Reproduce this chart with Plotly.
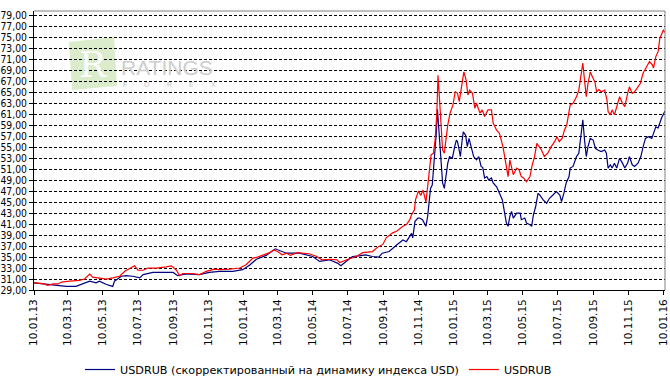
import plotly.graph_objects as go

# ---- data ----
red_dates = [
    '2013-01-10','2013-01-26','2013-02-03','2013-02-12','2013-02-21','2013-02-27','2013-03-13','2013-03-30',
    '2013-04-08','2013-04-17','2013-04-22','2013-05-04','2013-05-16','2013-05-27','2013-06-08','2013-06-17',
    '2013-06-28','2013-07-04','2013-07-10','2013-07-19','2013-07-27','2013-08-11','2013-08-28','2013-09-06',
    '2013-09-15','2013-09-20','2013-09-26','2013-10-11','2013-10-25','2013-11-06','2013-11-20','2013-11-29',
    '2013-12-16','2014-01-03','2014-01-14','2014-01-26','2014-02-03','2014-02-12','2014-02-24','2014-03-03',
    '2014-03-10','2014-03-18','2014-03-26','2014-04-01','2014-04-13','2014-05-04','2014-05-17','2014-05-26',
    '2014-06-09','2014-06-21','2014-06-26','2014-07-08','2014-07-25','2014-08-05','2014-08-22','2014-08-31',
    '2014-09-09','2014-09-15','2014-09-26','2014-10-03','2014-10-14','2014-10-20','2014-10-26','2014-10-29',
    '2014-11-03','2014-11-05','2014-11-10','2014-11-14','2014-11-18','2014-11-23','2014-11-27','2014-12-02',
    '2014-12-06','2014-12-09','2014-12-12','2014-12-14','2014-12-16','2014-12-19','2014-12-22','2014-12-25',
    '2014-12-28','2014-12-31','2015-01-04','2015-01-09','2015-01-13','2015-01-17','2015-01-20','2015-01-23',
    '2015-01-26','2015-01-28','2015-02-01','2015-02-04','2015-02-07','2015-02-12','2015-02-16','2015-02-19',
    '2015-02-25','2015-03-01','2015-03-05','2015-03-11','2015-03-17','2015-03-20','2015-03-26','2015-03-31',
    '2015-04-06','2015-04-09','2015-04-15','2015-04-18','2015-04-21','2015-04-24','2015-04-30','2015-05-04',
    '2015-05-08','2015-05-12','2015-05-17','2015-05-23','2015-05-27','2015-05-31','2015-06-04','2015-06-08',
    '2015-06-12','2015-06-17','2015-06-23','2015-06-29','2015-07-05','2015-07-09','2015-07-13','2015-07-18',
    '2015-07-22','2015-07-26','2015-07-30','2015-08-01','2015-08-06','2015-08-12','2015-08-16','2015-08-20',
    '2015-08-23','2015-08-26','2015-08-29','2015-09-01','2015-09-05','2015-09-10','2015-09-13','2015-09-16',
    '2015-09-20','2015-09-24','2015-09-30','2015-10-04','2015-10-06','2015-10-10','2015-10-13','2015-10-17',
    '2015-10-21','2015-10-26','2015-10-31','2015-11-04','2015-11-09','2015-11-12','2015-11-17','2015-11-21',
    '2015-11-27','2015-12-01','2015-12-06','2015-12-12','2015-12-17','2015-12-22','2015-12-24','2015-12-28',
    '2016-01-01','2016-01-04','2016-01-10','2016-01-13'
]
red_values = [
    30.3, 30.15, 29.85, 30.1, 30.1, 30.45, 30.6, 30.75,
    31.0, 31.9, 31.35, 31.2, 31.0, 31.2, 31.5, 32.4,
    33.0, 33.4, 32.6, 32.6, 33.0, 33.0, 33.2, 33.4,
    32.6, 31.6, 32.0, 32.0, 31.8, 32.4, 32.8, 32.7,
    32.8, 33.0, 33.6, 34.8, 35.0, 35.3, 35.8, 36.3,
    36.0, 35.4, 35.7, 35.3, 35.8, 35.6, 35.1, 34.5,
    34.6, 34.5, 34.0, 34.5, 35.1, 35.8, 36.0, 36.8,
    37.3, 38.5, 39.4, 39.7, 40.6, 40.9, 41.8, 42.7,
    43.6, 45.5, 47.0, 46.2, 47.2, 45.0, 49.05, 53.6,
    53.9, 56.3, 61.2, 68.1, 64.8, 58.7, 54.5, 53.9,
    56.9, 59.05, 61.2, 62.7, 65.1, 64.8, 63.3, 65.1,
    67.2, 68.7, 67.2, 64.5, 65.4, 64.8, 62.1, 63.0,
    61.2, 61.8, 60.6, 61.8, 61.8, 59.4, 58.1, 57.5,
    55.1, 53.0, 49.65, 52.7, 51.5, 50.0, 51.2, 50.9,
    49.65, 49.4, 48.7, 49.65, 51.8, 53.3, 55.7, 55.1,
    54.5, 53.3, 53.9, 55.1, 56.0, 56.9, 56.0, 56.6,
    58.1, 59.05, 61.2, 62.7, 63.0, 64.2, 65.4, 68.5,
    70.3, 67.2, 64.2, 66.6, 68.7, 67.5, 66.9, 65.1,
    65.5, 65.1, 65.4, 63.6, 61.5, 60.9, 61.8, 60.9,
    62.4, 64.2, 63.0, 62.4, 64.8, 66.0, 64.8, 65.1,
    66.0, 66.6, 68.5, 69.7, 70.6, 70.0, 69.4, 71.5,
    72.4, 74.8, 76.3, 75.9
]

blue_dates = [
    '2013-01-10','2013-02-01','2013-02-21','2013-03-07','2013-03-24','2013-04-11','2013-04-17','2013-04-28',
    '2013-05-04','2013-05-16','2013-05-27','2013-05-30','2013-06-11','2013-06-19','2013-07-01','2013-07-13',
    '2013-07-19','2013-08-05','2013-08-28','2013-09-09','2013-09-17','2013-10-02','2013-10-25','2013-11-11',
    '2013-11-29','2013-12-22','2014-01-08','2014-01-20','2014-02-01','2014-02-18','2014-03-06','2014-03-25',
    '2014-04-17','2014-05-10','2014-05-22','2014-06-08','2014-06-22','2014-06-28','2014-07-07','2014-07-18',
    '2014-07-30','2014-08-10','2014-08-22','2014-09-02','2014-09-08','2014-09-20','2014-10-03','2014-10-14',
    '2014-10-20','2014-10-29','2014-10-31','2014-11-04','2014-11-09','2014-11-12','2014-11-17','2014-11-23',
    '2014-11-26','2014-11-29','2014-12-01','2014-12-04','2014-12-08','2014-12-11','2014-12-13','2014-12-16',
    '2014-12-19','2014-12-22','2014-12-25','2014-12-28','2014-12-31','2015-01-03','2015-01-08','2015-01-12',
    '2015-01-15','2015-01-17','2015-01-20','2015-01-22','2015-01-25','2015-01-27','2015-01-31','2015-02-03',
    '2015-02-06','2015-02-10','2015-02-14','2015-02-19','2015-02-23','2015-02-27','2015-03-02','2015-03-05',
    '2015-03-09','2015-03-12','2015-03-17','2015-03-20','2015-03-26','2015-03-31','2015-04-05','2015-04-09',
    '2015-04-12','2015-04-15','2015-04-18','2015-04-21','2015-04-24','2015-04-30','2015-05-06','2015-05-08',
    '2015-05-14','2015-05-17','2015-05-23','2015-05-26','2015-05-29','2015-06-02','2015-06-06','2015-06-09',
    '2015-06-15','2015-06-21','2015-06-26','2015-07-02','2015-07-08','2015-07-14','2015-07-17','2015-07-21',
    '2015-07-25','2015-07-30','2015-08-01','2015-08-06','2015-08-12','2015-08-16','2015-08-20','2015-08-23',
    '2015-08-26','2015-08-29','2015-09-01','2015-09-05','2015-09-10','2015-09-14','2015-09-18','2015-09-24',
    '2015-09-30','2015-10-03','2015-10-06','2015-10-10','2015-10-13','2015-10-17','2015-10-21','2015-10-26',
    '2015-10-31','2015-11-04','2015-11-09','2015-11-12','2015-11-17','2015-11-21','2015-11-27','2015-12-02',
    '2015-12-06','2015-12-10','2015-12-15','2015-12-21','2015-12-23','2015-12-28','2016-01-01','2016-01-07',
    '2016-01-13'
]
blue_values = [
    30.3, 30.0, 29.85, 29.65, 29.65, 30.3, 30.6, 30.3,
    30.6, 30.0, 29.65, 30.6, 31.5, 31.6, 31.5, 31.2,
    31.8, 32.2, 32.2, 32.2, 31.6, 31.95, 31.8, 32.2,
    32.4, 32.4, 32.7, 33.5, 34.6, 35.3, 36.5, 35.7,
    35.7, 35.1, 34.2, 34.5, 33.9, 33.4, 34.2, 35.1,
    35.2, 35.4, 35.1, 35.0, 35.7, 36.0, 37.2, 38.1,
    37.8, 39.3, 38.5, 41.5, 42.1, 42.1, 41.8, 40.6,
    42.4, 45.4, 47.5, 48.1, 52.7, 57.5, 61.9, 57.5,
    52.7, 48.5, 47.5, 50.3, 52.1, 53.3, 53.0, 55.1,
    56.3, 56.0, 54.5, 53.3, 56.3, 57.8, 57.2, 55.1,
    56.6, 55.1, 53.3, 52.7, 53.3, 51.5, 51.3, 49.4,
    49.65, 49.05, 49.4, 48.5, 47.8, 46.6, 45.4, 43.0,
    41.2, 40.6, 42.4, 43.3, 42.1, 43.0, 43.0, 41.8,
    42.1, 41.2, 40.9, 40.6, 42.7, 44.2, 46.6, 46.3,
    45.4, 44.8, 45.7, 46.3, 46.9, 46.3, 45.1, 46.6,
    48.5, 49.65, 51.2, 51.5, 53.3, 53.9, 56.9, 60.0,
    56.3, 53.3, 55.1, 56.6, 56.3, 54.8, 54.5, 54.2,
    54.5, 53.9, 51.2, 51.8, 51.2, 52.1, 51.2, 53.0,
    52.1, 51.2, 52.1, 53.3, 51.8, 51.5, 52.1, 53.3,
    55.1, 56.6, 56.9, 56.6, 57.2, 58.7, 58.5, 60.3,
    61.6
]

series_names = ['USDRUB (скорректированный на динамику индекса USD)', 'USDRUB']

x_tick_dates = [
    '2013-01-10','2013-03-10','2013-05-10','2013-07-10','2013-09-10','2013-11-10',
    '2014-01-10','2014-03-10','2014-05-10','2014-07-10','2014-09-10','2014-11-10',
    '2015-01-10','2015-03-10','2015-05-10','2015-07-10','2015-09-10','2015-11-10',
    '2016-01-10'
]
x_tick_labels = [
    '10.01.13','10.03.13','10.05.13','10.07.13','10.09.13','10.11.13',
    '10.01.14','10.03.14','10.05.14','10.07.14','10.09.14','10.11.14',
    '10.01.15','10.03.15','10.05.15','10.07.15','10.09.15','10.11.15',
    '10.01.16'
]
y_tick_values = list(range(29, 80, 2))
y_tick_labels = [f"{v},00" for v in y_tick_values]

FONT = 'DejaVu Sans'
YFONT = 'DejaVu Sans Condensed, Liberation Sans, sans-serif'

fig = go.Figure()
fig.add_trace(go.Scatter(x=blue_dates, y=blue_values, mode='lines', name=series_names[0],
                         line=dict(color='#000080', width=1.2)))
fig.add_trace(go.Scatter(x=red_dates, y=red_values, mode='lines', name=series_names[1],
                         line=dict(color='#ff0000', width=1.2)))

fig.update_layout(
    template='none',
    width=670, height=384,
    margin=dict(l=34, r=5, t=11, b=94, pad=0, autoexpand=False),
    paper_bgcolor='white', plot_bgcolor='rgba(0,0,0,0)',
    font=dict(family=FONT, size=10.5, color='black'),
    showlegend=True,
    legend=dict(orientation='h', x=(80 - 34) / 631.0, xanchor='left', y=-0.285, yanchor='middle',
                font=dict(family=FONT, size=11.2, color='black'),
                bgcolor='rgba(0,0,0,0)', itemwidth=30, borderwidth=0),
    xaxis=dict(type='date', range=['2013-01-10', '2016-01-13'], automargin=False,
               tickmode='array', tickvals=x_tick_dates, ticktext=x_tick_labels,
               tickangle=-90, ticks='outside', ticklen=4, tickcolor='black',
               showline=True, linecolor='black', linewidth=1,
               showgrid=False, zeroline=False,
               tickfont=dict(family=FONT, size=10.5, color='black')),
    yaxis=dict(range=[29, 79.8], automargin=False, tickmode='array', tickvals=y_tick_values,
               ticktext=y_tick_labels,
               ticks='outside', ticklen=4, tickcolor='black',
               showline=True, linecolor='black', linewidth=1,
               showgrid=True, gridcolor='black', gridwidth=1, griddash='3px,2px',
               zeroline=False,
               tickfont=dict(family=YFONT, size=10.3, color='black')),
)

# gray frame on top and right of plot area
fig.add_shape(type='line', xref='paper', yref='paper', x0=0, x1=1, y0=1, y1=1,
              line=dict(color='#808080', width=1), layer='above')
fig.add_shape(type='line', xref='paper', yref='paper', x0=1, x1=1, y0=0, y1=1,
              line=dict(color='#808080', width=1), layer='above')

# watermark logo (decoration)
def px(xp):
    return (xp - 34) / 631.0
def py(yp):
    return (290 - yp) / 279.0

fig.add_shape(type='path', xref='paper', yref='paper',
              path=f"M {px(69)},{py(42)} L {px(114)},{py(37)} L {px(117)},{py(86)} L {px(72)},{py(90)} Z",
              fillcolor='rgba(175,212,145,0.45)', line=dict(width=0), layer='below')
fig.add_annotation(xref='paper', yref='paper', x=px(93), y=py(64), xanchor='center', yanchor='middle',
                   text='R', showarrow=False,
                   font=dict(family='DejaVu Serif', size=36, color='rgba(255,255,255,0.95)'))
fig.add_annotation(xref='paper', yref='paper', x=px(167), y=py(67), xanchor='center', yanchor='middle',
                   text='RATINGS', showarrow=False,
                   font=dict(family='Liberation Sans', size=21, color='rgb(205,205,205)'))
for i, letter in enumerate(['F', 'O', 'R', 'E', 'X']):
    fig.add_annotation(xref='paper', yref='paper', x=px(125 + i * 22), y=py(84), xanchor='center',
                       yanchor='middle', text=letter, showarrow=False,
                       font=dict(family='Liberation Sans', size=7, color='rgb(190,190,190)'))

fig.write_html('out.html', config={'displayModeBar': False},
               post_script="document.body.style.margin='0';document.body.style.padding='0';")
